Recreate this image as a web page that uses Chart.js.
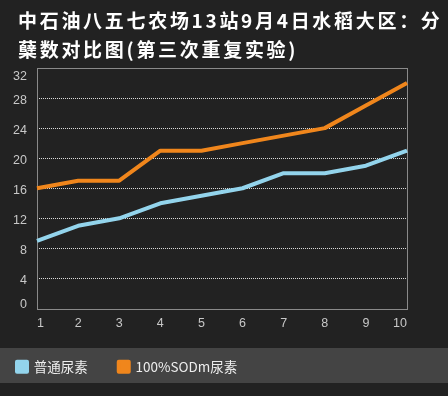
<!DOCTYPE html>
<html>
<head>
<meta charset="utf-8">
<script src="https://cdn.jsdelivr.net/npm/chart.js@4/dist/chart.umd.min.js"></script>
<style>
  html, body { margin: 0; padding: 0; background: #222222; width: 448px; height: 396px; overflow: hidden; }
  #wrap { position: relative; width: 448px; height: 396px; }
  #title { position: absolute; left: 18px; top: 5px; color: #ffffff; font-family: "Noto Sans CJK SC", sans-serif; font-weight: bold; font-size: 19px; line-height: 29px; letter-spacing: 2.7px; white-space: nowrap; }
  canvas { position: absolute; left: 0; top: 0; }
</style>
</head>
<body>
<div id="wrap">
  <canvas id="c" width="448" height="396"></canvas>
  <div id="title">中石油八五七农场13站9月4日水稻大区：分<br>蘖数对比图(第三次重复实验)</div>
</div>
<script>
const categories = ['1', '2', '3', '4', '5', '6', '7', '8', '9', '10'];
const seriesNames = ['普通尿素', '100%SODm尿素'];
const normalUrea = [9, 11, 12, 14, 15, 16, 18, 18, 19, 21];
const sodmUrea = [16, 17, 17, 21, 21, 22, 23, 24, 27, 30];
const yTicks = [0, 4, 8, 12, 16, 20, 24, 28, 32];

const BLUE = '#93d4ec';
const ORANGE = '#f0861c';
const LEG_PAD = 31;

const framePlugin = {
  id: 'frame',
  afterLayout(chart) {
    if (chart.legend) {
      chart.legend.left -= 14;
    }
  },
  beforeDraw(chart) {
    const ctx = chart.ctx;
    ctx.save();
    ctx.fillStyle = '#222222';
    ctx.fillRect(0, 0, chart.width, chart.height);
    const lg = chart.legend;
    if (lg) {
      const c = lg.top + LEG_PAD + 6.5;
      ctx.fillStyle = '#444444';
      ctx.fillRect(0, Math.round(c - 19), chart.width, 35);
    }
    ctx.restore();
    // keep the first and last y labels inside the plot box
    const ys = chart.scales.y;
    const items = ys.getLabelItems(chart.chartArea);
    if (items.length) {
      items[0].options.textBaseline = 'bottom';
      items[items.length - 1].options.textBaseline = 'top';
    }
  },
  beforeDatasetsDraw(chart) {
    const a = chart.chartArea;
    const ctx = chart.ctx;
    ctx.save();
    ctx.strokeStyle = '#8a8a8a';
    ctx.lineWidth = 1;
    ctx.strokeRect(Math.round(a.left) + 0.5, Math.round(a.top) + 0.5, Math.round(a.right - a.left), Math.round(a.bottom - a.top));
    ctx.restore();
  }
};

new Chart(document.getElementById('c'), {
  type: 'line',
  data: {
    labels: categories,
    datasets: [
      { label: seriesNames[0], data: normalUrea, borderColor: BLUE, backgroundColor: BLUE, borderWidth: 4, pointRadius: 0, tension: 0, borderJoinStyle: 'round' },
      { label: seriesNames[1], data: sodmUrea, borderColor: ORANGE, backgroundColor: ORANGE, borderWidth: 4, pointRadius: 0, tension: 0, borderJoinStyle: 'round' }
    ]
  },
  options: {
    responsive: false,
    animation: false,
    devicePixelRatio: 1,
    layout: { padding: { top: 68, right: 41, bottom: 12.5, left: 0 } },
    plugins: {
      title: { display: false },
      tooltip: { enabled: false },
      legend: {
        position: 'bottom',
        align: 'start',
        labels: {
          boxWidth: 10,
          boxHeight: 10,
          padding: LEG_PAD,
          color: '#eeeeee',
          font: { family: '"Noto Sans CJK SC", sans-serif', size: 13.5 }
        }
      }
    },
    scales: {
      x: {
        offset: false,
        grid: { display: false, drawTicks: false },
        border: { display: false },
        ticks: { color: '#c8c8c8', align: 'inner', padding: 8, maxRotation: 0, font: { family: '"Liberation Sans", sans-serif', size: 12.5 } },
        afterFit(s) { s.height = 20.5; }
      },
      y: {
        min: 0,
        max: 32,
        afterBuildTicks(s) { s.ticks = yTicks.map(v => ({ value: v })); },
        grid: {
          drawTicks: false,
          lineWidth: 1,
          color: (ctx) => (ctx.tick && (ctx.tick.value === 0 || ctx.tick.value === 32)) ? 'rgba(0,0,0,0)' : '#dddddd'
        },
        border: { display: false, dash: [1, 1] },
        ticks: { color: '#c8c8c8', padding: 10, labelOffset: 2, font: { family: '"Liberation Sans", sans-serif', size: 12.5 } },
        afterFit(s) { s.width = 37; }
      }
    }
  },
  plugins: [framePlugin]
});
</script>
</body>
</html>
